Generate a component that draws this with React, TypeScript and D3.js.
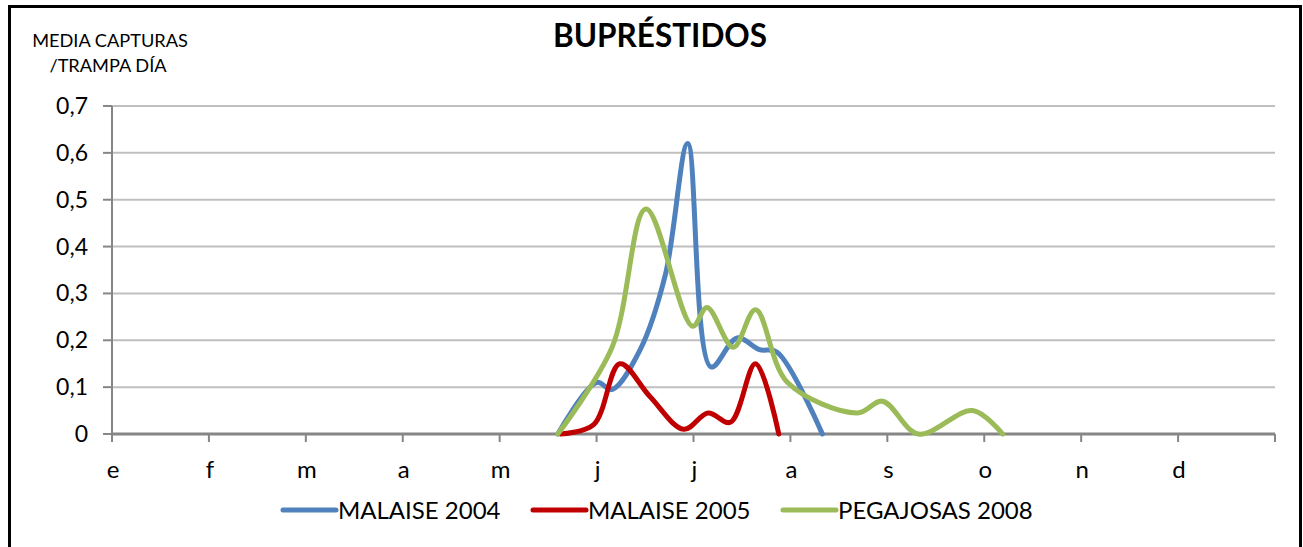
import React from "react";
import * as d3 from "d3";

const monthLabels = ["e", "f", "m", "a", "m", "j", "j", "a", "s", "o", "n", "d"];
const yTicks = [0, 0.1, 0.2, 0.3, 0.4, 0.5, 0.6, 0.7];

// x in month units (0 = start of January)
const malaise2004X = [4.60, 5.00, 5.16, 5.45, 5.71, 5.94, 6.18, 6.45, 6.68, 6.86, 7.33];
const malaise2004Y = [0, 0.11, 0.095, 0.18, 0.34, 0.62, 0.143, 0.205, 0.18, 0.175, 0];

const malaise2005X = [4.63, 4.97, 5.24, 5.55, 5.90, 6.15, 6.38, 6.64, 6.88];
const malaise2005Y = [0, 0.02, 0.15, 0.08, 0.01, 0.045, 0.025, 0.15, 0];

const pegajosas2008X = [4.60, 5.16, 5.51, 5.99, 6.14, 6.41, 6.64, 6.97, 7.69, 7.95, 8.32, 8.88, 9.19];
const pegajosas2008Y = [0, 0.185, 0.48, 0.23, 0.27, 0.185, 0.265, 0.11, 0.045, 0.07, 0, 0.05, 0];

const seriesNames = ["MALAISE 2004", "MALAISE 2005", "PEGAJOSAS 2008"];
const seriesColors = ["#4f81bd", "#c00000", "#9bbb59"];

const FONT = "Lato, 'Open Sans', sans-serif";

export default function App() {
  const W = 1303, H = 547;
  const x = d3.scaleLinear().domain([0, 12]).range([112, 1275]);
  const y = d3.scaleLinear().domain([0, 0.7]).range([434, 106]);

  const series = [
    { name: seriesNames[0], color: seriesColors[0], xs: malaise2004X, ys: malaise2004Y },
    { name: seriesNames[1], color: seriesColors[1], xs: malaise2005X, ys: malaise2005Y },
    { name: seriesNames[2], color: seriesColors[2], xs: pegajosas2008X, ys: pegajosas2008Y },
  ];

  const line = d3
    .line<[number, number]>()
    .x((d) => x(d[0]))
    .y((d) => y(d[1]))
    .curve(d3.curveCatmullRom.alpha(0.5));

  const legendX = [283, 533, 783];

  return (
    <svg width={W} height={H} style={{ position: "absolute", left: 0, top: 0 }}>
      <rect x={0} y={0} width={W} height={H} fill="#fff" />
      <rect x={9.5} y={6.5} width={1291} height={560} fill="none" stroke="#000" strokeWidth={3} />
      <text x={660} y={47} textAnchor="middle" fontFamily={FONT} fontWeight="bold" fontSize={31.5} fill="#000">
        BUPRÉSTIDOS
      </text>
      <text x={110} y={47} textAnchor="middle" fontFamily={FONT} fontSize={18.2} fill="#000">
        MEDIA CAPTURAS
      </text>
      <text x={108} y={72} textAnchor="middle" fontFamily={FONT} fontSize={18.2} fill="#000">
        /TRAMPA DÍA
      </text>

      {/* gridlines */}
      {yTicks.slice(1).map((t) => (
        <line key={"g" + t} x1={x(0)} x2={x(12)} y1={y(t)} y2={y(t)} stroke="#bfbfbf" strokeWidth={2} />
      ))}
      {/* y axis */}
      <line x1={x(0)} x2={x(0)} y1={y(0.7)} y2={y(0)} stroke="#868686" strokeWidth={2} />
      {yTicks.map((t) => (
        <g key={"yt" + t}>
          <line x1={x(0) - 9} x2={x(0)} y1={y(t)} y2={y(t)} stroke="#868686" strokeWidth={2} />
          <text x={88} y={y(t) + 8} textAnchor="end" fontFamily={FONT} fontSize={23} fill="#000">
            {t === 0 ? "0" : d3.format(".1f")(t).replace(".", ",")}
          </text>
        </g>
      ))}
      {/* x axis */}
      <line x1={x(0)} x2={x(12)} y1={y(0)} y2={y(0)} stroke="#868686" strokeWidth={3} />
      {d3.range(0, 13).map((m) => (
        <line key={"xt" + m} x1={x(m)} x2={x(m)} y1={y(0)} y2={y(0) + 8} stroke="#868686" strokeWidth={2} />
      ))}
      {monthLabels.map((l, i) => (
        <text key={"xl" + i} x={x(i) + 1} y={478} textAnchor="middle" fontFamily={FONT} fontSize={24} fill="#000">
          {l}
        </text>
      ))}

      {/* series */}
      {series.map((s) => (
        <path
          key={s.name}
          d={line(s.xs.map((v, i) => [v, s.ys[i]] as [number, number])) || ""}
          fill="none"
          stroke={s.color}
          strokeWidth={5}
          strokeLinecap="round"
          strokeLinejoin="round"
        />
      ))}

      {/* legend */}
      {series.map((s, i) => (
        <g key={"lg" + i}>
          <line x1={legendX[i]} x2={legendX[i] + 53} y1={510} y2={510} stroke={s.color} strokeWidth={5} strokeLinecap="round" />
          <text x={legendX[i] + 55} y={519} fontFamily={FONT} fontSize={24} fill="#000">
            {s.name}
          </text>
        </g>
      ))}
    </svg>
  );
}
